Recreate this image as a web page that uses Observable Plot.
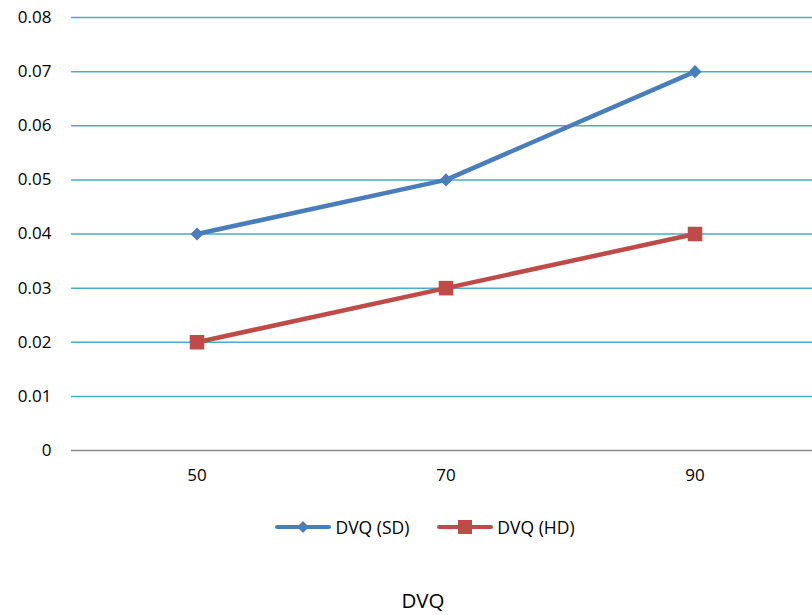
<!DOCTYPE html>
<html>
<head>
<meta charset="utf-8">
<script src="https://cdn.jsdelivr.net/npm/d3@7"></script>
<script src="https://cdn.jsdelivr.net/npm/@observablehq/plot@0.6"></script>
<style>
  html, body { margin: 0; padding: 0; background: #fff; overflow: hidden; }
  body { width: 812px; height: 615px; font-family: "Open Sans", sans-serif; color: #000; }
  #chart svg { display: block; overflow: visible; }
  #chart svg text { font-size: 17px; font-family: "Open Sans", sans-serif; fill: #000; }
  #legend { position: absolute; top: 514px; left: 0; width: 812px; display: flex; justify-content: center; gap: 28px; font-size: 17.5px; padding-left: 38px; box-sizing: border-box; line-height: 26px;}
  .item { display: flex; align-items: center; gap: 4px; }
  #title { position: absolute; top: 587px; left: 0; width: 812px; text-align: center; font-size: 20.5px; line-height: 26px; padding-left: 34px; box-sizing: border-box;}
</style>
</head>
<body>
<div id="chart"></div>
<div id="legend"></div>
<div id="title">DVQ</div>
<script>
const categories = [50, 70, 90];
const seriesNames = ["DVQ (SD)", "DVQ (HD)"];
const sdValues = [0.04, 0.05, 0.07];
const hdValues = [0.02, 0.03, 0.04];
const yTicks = [0, 0.01, 0.02, 0.03, 0.04, 0.05, 0.06, 0.07, 0.08];
const colors = ["#4A7EBB", "#BE4B48"];
const gridColor = "#4BACC6";

const rows = [];
categories.forEach((c, i) => {
  rows.push({cat: c, value: sdValues[i], series: seriesNames[0]});
  rows.push({cat: c, value: hdValues[i], series: seriesNames[1]});
});
const sdRows = rows.filter(d => d.series === seriesNames[0]);
const hdRows = rows.filter(d => d.series === seriesNames[1]);

const chart = Plot.plot({
  width: 812,
  height: 490,
  marginTop: 17,
  marginBottom: 40,
  marginLeft: 71,
  marginRight: -8,
  style: {fontFamily: "Open Sans, sans-serif", fontSize: "17px", color: "#000"},
  x: {type: "band", domain: categories, padding: 0, label: null, tickSize: 0, tickPadding: 18},
  y: {domain: [0, 0.08], ticks: yTicks, label: null, tickSize: 0, tickPadding: 20,
      tickFormat: d => d === 0 ? "0" : d.toFixed(2)},
  marks: [
    Plot.ruleY(yTicks.filter(t => t > 0), {stroke: gridColor, strokeWidth: 1.5}),
    Plot.ruleY([0], {stroke: "#888888", strokeWidth: 1.5}),
    Plot.line(sdRows, {x: "cat", y: "value", stroke: colors[0], strokeWidth: 4.5}),
    Plot.line(hdRows, {x: "cat", y: "value", stroke: colors[1], strokeWidth: 4.5}),
    Plot.dot(sdRows, {x: "cat", y: "value", symbol: "square", r: 5.2, rotate: 45, fill: colors[0], stroke: null}),
    Plot.dot(hdRows, {x: "cat", y: "value", symbol: "square", r: 8.2, fill: colors[1], stroke: null})
  ]
});
document.getElementById("chart").appendChild(chart);

// legend
const legend = document.getElementById("legend");
seriesNames.forEach((name, i) => {
  const item = document.createElement("div");
  item.className = "item";
  const ns = "http://www.w3.org/2000/svg";
  const svg = document.createElementNS(ns, "svg");
  svg.setAttribute("width", 56); svg.setAttribute("height", 16);
  const line = document.createElementNS(ns, "line");
  line.setAttribute("x1", 2); line.setAttribute("x2", 54);
  line.setAttribute("y1", 8); line.setAttribute("y2", 8);
  line.setAttribute("stroke", colors[i]); line.setAttribute("stroke-width", 4);
  line.setAttribute("stroke-linecap", "round");
  svg.appendChild(line);
  if (i === 0) {
    const p = document.createElementNS(ns, "path");
    p.setAttribute("d", "M28,2 L34,8 L28,14 L22,8 Z");
    p.setAttribute("fill", colors[i]);
    svg.appendChild(p);
  } else {
    const r = document.createElementNS(ns, "rect");
    r.setAttribute("x", 21); r.setAttribute("y", 1); r.setAttribute("width", 14); r.setAttribute("height", 14);
    r.setAttribute("fill", colors[i]);
    svg.appendChild(r);
  }
  item.appendChild(svg);
  const t = document.createElement("span");
  t.textContent = name;
  item.appendChild(t);
  legend.appendChild(item);
});
</script>
</body>
</html>
